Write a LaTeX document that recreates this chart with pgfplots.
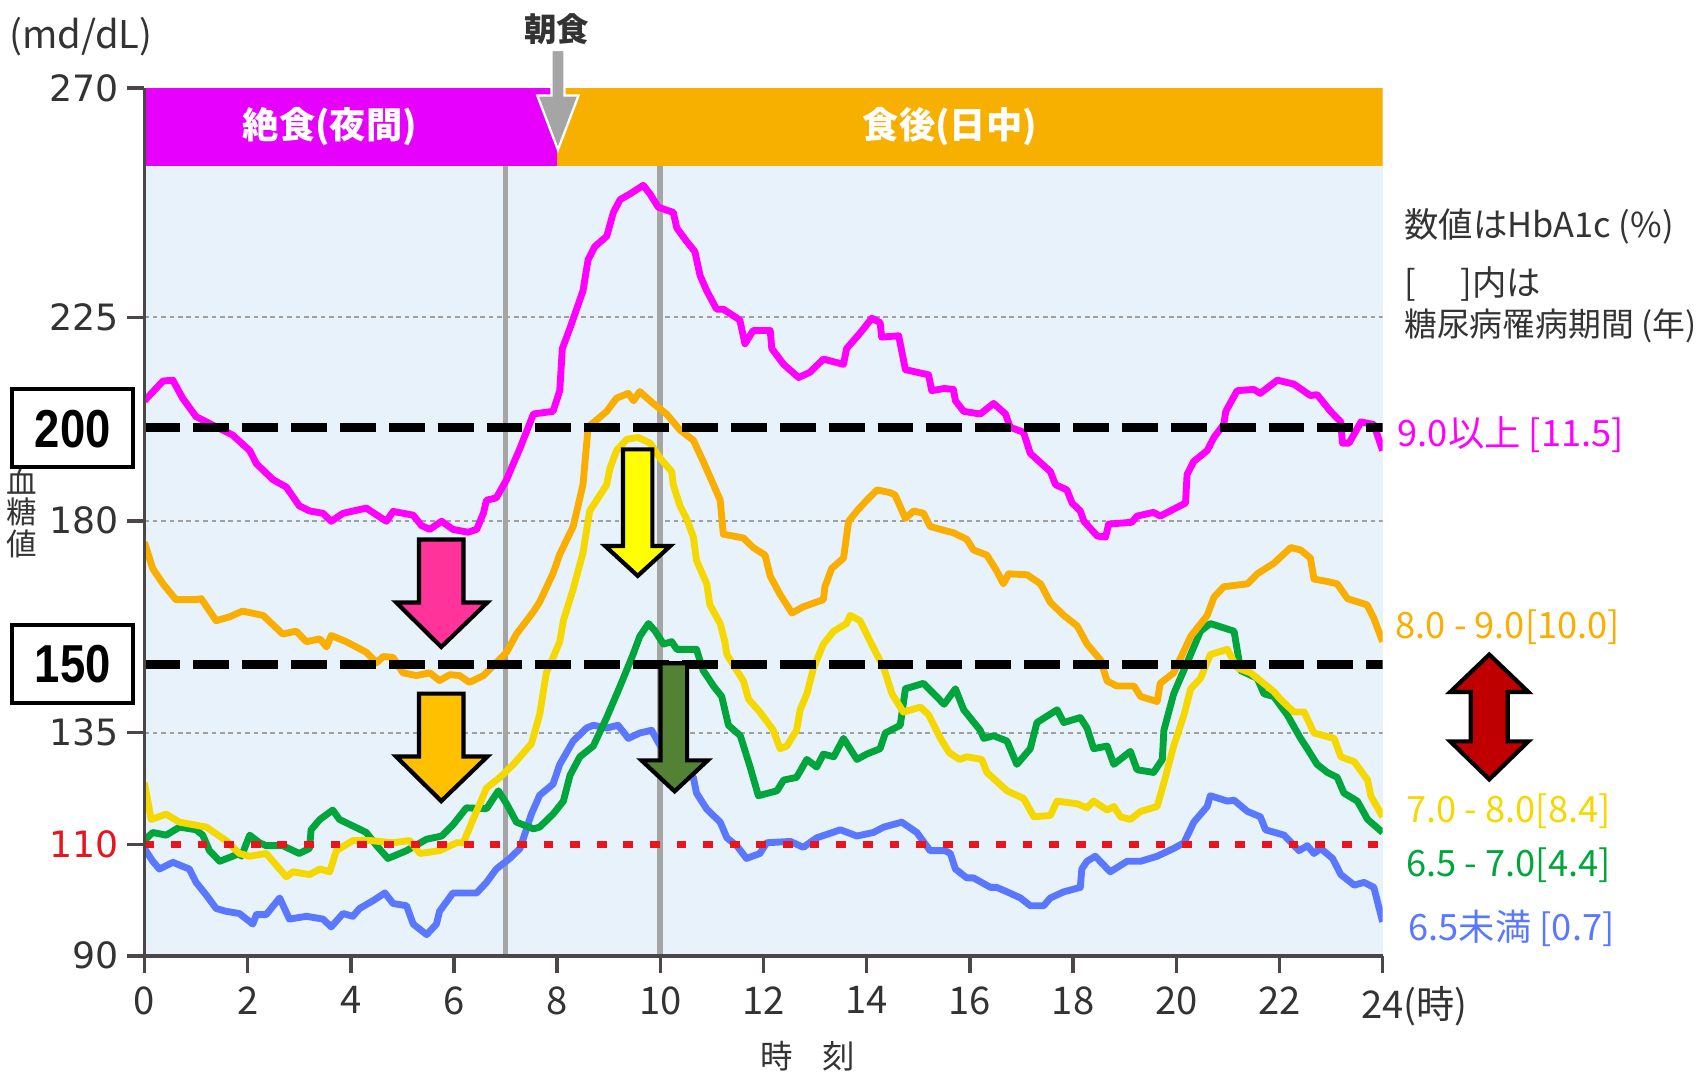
\documentclass[border=0pt]{standalone}
\usepackage{pgfplots}
\pgfplotsset{compat=1.18}
\usepackage{fontspec}
\setmainfont{Noto Sans CJK JP}
\newfontfamily\boxfont[FakeStretch=0.85]{Liberation Sans}
\newfontfamily\tickfont{DejaVu Sans}
\definecolor{cmag}{HTML}{FF00FF}
\definecolor{barmag}{HTML}{E800FF}
\definecolor{corg}{HTML}{F9AE00}
\definecolor{barorg}{HTML}{F8B000}
\definecolor{cyel}{HTML}{F5D800}
\definecolor{cgrn}{HTML}{00A53C}
\definecolor{cblu}{HTML}{5A78FF}
\definecolor{plotbg}{HTML}{E8F2FB}
\definecolor{vgray}{HTML}{A5A5A5}
\definecolor{gridgray}{HTML}{A0A0A0}
\definecolor{axisgray}{HTML}{4D4646}
\definecolor{labelgray}{HTML}{333333}
\definecolor{red110}{HTML}{E8141E}
\definecolor{arrpink}{HTML}{FF3399}
\definecolor{arrorg}{HTML}{FFC000}
\definecolor{arryel}{HTML}{FFFF00}
\definecolor{arrgrn}{HTML}{548235}
\definecolor{arrred}{HTML}{C00000}
\begin{document}
\begin{tikzpicture}
\useasboundingbox (0,0) rectangle (15.68cm,9.89cm);
\begin{axis}[
  at={(1.33cm,1.09cm)}, anchor=south west,
  width=11.40cm, height=7.99cm, scale only axis,
  xmin=0, xmax=24, ymin=90, ymax=270,
  enlargelimits=false,
  y coord trafo/.code={\pgfmathparse{#1<=110 ? (#1-90)*5.12 : (#1<=135 ? 102.4+(#1-110)*4.124 : (#1<=150 ? 205.5+(#1-135)*4.2 : (#1<=180 ? 268.5+(#1-150)*4.4 : (#1<=200 ? 400.5+(#1-180)*4.31 : (#1<=225 ? 486.7+(#1-200)*4.044 : 587.8+(#1-225)*4.693)))))}},
  axis x line*=bottom, axis y line*=left,
  axis on top=true,
  axis line style={draw=axisgray, line width=0.9pt},
  xtick={0,2,...,24},
  xticklabels={0,2,4,6,8,10,12,14,16,18,20,22,24\rlap{(時)}},
  ytick={90,110,135,180,225,270},
  yticklabels={90,\textcolor{red110}{110},135,180,225,270},
  tick align=outside,
  major tick length=0.16cm,
  tick style={draw=axisgray, line width=0.9pt},
  xticklabel style={font=\fontsize{10}{12}\selectfont, text=labelgray},
  yticklabel style={font=\tickfont\fontsize{9.5}{11}\selectfont, text=labelgray, xshift=0.05cm},
  /pgf/number format/assume math mode=true,
  axis background/.style={fill=plotbg},
]
% grid lines
\addplot[gridgray, line width=0.5pt, dash pattern=on 1.2pt off 1pt] coordinates {(0,225) (24,225)};
\addplot[gridgray, line width=0.5pt, dash pattern=on 1.2pt off 1pt] coordinates {(0,180) (24,180)};
\addplot[gridgray, line width=0.5pt, dash pattern=on 1.2pt off 1pt] coordinates {(0,135) (24,135)};
% vertical lines
\addplot[vgray, line width=1.5pt] coordinates {(7,90) (7,254.6)};
\addplot[vgray, line width=1.5pt] coordinates {(10,90) (10,254.6)};
% blue: HbA1c < 6.5
\addplot[cblu, line width=1.8pt, line join=round] coordinates {
(0,109.3) (0.16,107.0) (0.29,105.6) (0.55,106.8) (0.87,105.6) (1.0,103.2) (1.2,100.9) (1.39,98.5) (1.58,98.0) (1.84,97.6) (2.1,95.7) (2.17,97.4) (2.36,97.4) (2.62,100.4) (2.81,96.6) (3.14,97.1) (3.46,96.6) (3.62,95.2) (3.85,97.6) (4.04,97.1) (4.17,98.5) (4.43,99.9) (4.66,101.3) (4.82,99.4) (5.08,99.0) (5.21,95.7) (5.47,93.8) (5.66,95.7) (5.72,98.0) (5.98,101.3) (6.44,101.3) (6.63,103.2) (6.82,105.6) (7.08,107.5) (7.28,109.3) (7.5,116.8) (7.66,121.0) (7.92,123.5) (8.05,127.9) (8.31,133.1) (8.57,136.0) (8.7,136.6) (8.96,136.0) (9.18,136.6) (9.38,133.7) (9.6,134.9) (9.83,135.5) (10.0,132.0) (10.38,127.9) (10.64,125.0) (10.7,121.5) (10.9,117.9) (11.16,115.0) (11.29,111.5) (11.48,109.8) (11.67,107.5) (11.93,108.4) (12.06,110.4) (12.52,110.7) (12.77,109.5) (13.03,111.5) (13.49,113.3) (13.81,111.9) (14.13,112.7) (14.33,113.9) (14.68,115.0) (14.97,112.7) (15.23,108.9) (15.52,108.9) (15.62,108.4) (15.72,105.6) (15.94,104.0) (16.07,104.0) (16.4,102.3) (16.52,102.3) (16.72,101.5) (16.98,100.4) (17.17,99.0) (17.43,99.0) (17.56,100.4) (17.82,101.5) (18.14,102.3) (18.17,105.6) (18.27,107.0) (18.43,107.9) (18.72,105.1) (19.05,107.0) (19.31,107.0) (19.63,107.9) (19.95,109.3) (20.15,110.4) (20.34,115.0) (20.6,118.5) (20.66,120.9) (20.99,119.7) (21.12,119.9) (21.38,117.4) (21.63,116.2) (21.73,113.3) (22.09,112.1) (22.38,108.9) (22.54,109.8) (22.67,108.4) (22.8,109.3) (23.03,107.5) (23.19,104.6) (23.45,102.7) (23.64,103.2) (23.83,102.3) (24.0,96.1)};
% green: 6.5-7.0
\addplot[cgrn, line width=1.8pt, line join=round] coordinates {
(0,110.9) (0.16,112.7) (0.42,112.1) (0.68,113.9) (1.0,113.3) (1.13,112.1) (1.26,108.9) (1.46,107.0) (1.71,107.9) (1.84,108.4) (1.88,107.9) (2.04,112.1) (2.23,110.4) (2.36,109.8) (2.68,109.8) (3.0,108.4) (3.2,109.3) (3.23,113.3) (3.4,115.6) (3.65,117.7) (3.78,115.6) (4.3,112.7) (4.5,109.8) (4.72,107.5) (5.08,108.9) (5.47,111.2) (5.76,111.9) (5.98,114.4) (6.24,118.2) (6.63,118.0) (6.86,122.0) (7.02,119.1) (7.21,115.0) (7.54,113.5) (7.66,113.9) (7.92,116.8) (8.12,119.7) (8.25,125.5) (8.44,129.6) (8.7,132.0) (8.96,138.3) (9.22,145.2) (9.47,152.0) (9.6,155.8) (9.77,158.5) (9.9,156.9) (10.06,154.2) (10.22,154.7) (10.32,153.1) (10.7,153.1) (10.83,148.6) (11.03,145.2) (11.19,142.9) (11.32,136.6) (11.55,134.3) (11.74,127.3) (11.9,120.9) (12.26,122.0) (12.39,124.4) (12.64,125.0) (12.84,129.0) (13.03,127.3) (13.16,130.2) (13.36,129.6) (13.55,133.7) (13.81,129.0) (14.0,130.2) (14.26,131.4) (14.36,134.9) (14.65,136.6) (14.75,144.6) (15.1,145.8) (15.3,143.5) (15.5,141.2) (15.72,144.6) (15.88,140.0) (16.2,135.5) (16.27,133.7) (16.46,134.3) (16.72,133.1) (16.91,127.9) (17.17,131.4) (17.3,137.2) (17.69,140.0) (17.82,137.2) (18.14,138.3) (18.27,136.0) (18.4,131.4) (18.66,132.0) (18.79,127.9) (19.11,130.8) (19.24,126.7) (19.56,126.1) (19.73,129.0) (19.76,135.5) (19.95,143.5) (20.21,150.3) (20.47,156.9) (20.66,158.5) (21.12,156.9) (21.25,148.6) (21.57,146.9) (21.7,143.5) (21.89,142.9) (22.15,138.9) (22.41,133.7) (22.54,131.4) (22.73,127.9) (22.93,126.1) (23.12,125.0) (23.25,121.5) (23.51,119.7) (23.71,115.6) (24.0,112.7)};
% yellow: 7.0-8.0
\addplot[cyel, line width=1.8pt, line join=round] coordinates {
(0,123.8) (0.13,115.6) (0.42,116.8) (0.68,115.0) (1.2,113.9) (1.58,110.9) (1.84,108.4) (2.04,107.9) (2.36,108.4) (2.49,107.0) (2.75,104.2) (2.88,105.1) (3.2,104.6) (3.4,105.6) (3.59,105.1) (3.72,108.9) (4.04,110.9) (4.37,110.9) (4.82,110.4) (5.14,110.9) (5.34,108.4) (5.72,108.9) (6.05,110.4) (6.18,110.4) (6.37,115.6) (6.63,122.6) (6.89,125.0) (7.15,127.9) (7.5,132.5) (7.66,138.9) (7.79,148.1) (7.92,151.4) (8.05,154.7) (8.12,159.1) (8.31,165.7) (8.5,173.3) (8.63,182.1) (8.83,185.5) (8.96,187.7) (9.02,191.1) (9.15,195.0) (9.35,197.4) (9.57,197.8) (9.8,196.6) (10.0,193.3) (10.22,190.5) (10.25,187.7) (10.38,183.2) (10.51,180.4) (10.64,176.6) (10.7,171.7) (10.9,166.8) (10.96,162.4) (11.16,158.5) (11.25,154.7) (11.29,152.0) (11.61,146.3) (11.71,142.3) (11.93,139.5) (12.19,135.5) (12.32,131.4) (12.45,132.0) (12.64,135.5) (12.71,140.0) (12.84,143.5) (12.97,149.2) (13.16,154.2) (13.36,156.9) (13.61,158.5) (13.68,160.2) (13.87,159.1) (14.07,154.7) (14.33,149.2) (14.49,143.5) (14.71,139.5) (15.04,140.6) (15.2,138.9) (15.43,133.7) (15.6,130.5) (15.8,129.0) (15.94,129.6) (16.23,129.0) (16.33,126.1) (16.72,122.0) (17.04,120.3) (17.24,116.2) (17.56,116.5) (17.69,119.7) (18.08,119.1) (18.27,118.2) (18.4,119.7) (18.66,117.7) (18.79,118.5) (18.92,116.2) (19.11,115.6) (19.31,117.4) (19.63,118.5) (19.76,123.8) (19.95,132.0) (20.15,138.9) (20.28,144.6) (20.47,146.9) (20.66,152.0) (20.99,153.1) (21.18,149.2) (21.44,148.1) (21.89,144.0) (22.02,142.3) (22.28,139.5) (22.48,139.5) (22.67,134.9) (23.06,133.7) (23.19,129.6) (23.45,128.5) (23.71,124.4) (23.77,120.9) (24.0,116.2)};
% orange: 8.0-9.0
\addplot[corg, line width=1.8pt, line join=round] coordinates {
(0,175.5) (0.16,170.0) (0.36,166.8) (0.61,163.5) (1.0,163.5) (1.1,163.7) (1.39,159.1) (1.65,159.9) (1.9,161.1) (2.3,160.2) (2.68,156.3) (2.94,156.9) (3.14,154.7) (3.4,155.3) (3.53,153.6) (3.62,156.0) (3.91,154.7) (4.3,152.5) (4.5,150.3) (4.63,151.6) (4.82,151.4) (5.01,148.1) (5.27,147.5) (5.53,148.1) (5.72,146.4) (5.92,147.7) (6.11,147.5) (6.3,146.0) (6.57,147.5) (6.82,150.3) (7.02,152.5) (7.21,156.3) (7.54,161.0) (7.66,163.0) (7.79,166.0) (7.92,169.0) (8.05,173.0) (8.31,178.8) (8.5,187.7) (8.6,200.0) (8.96,203.6) (9.15,206.6) (9.38,207.7) (9.48,206.0) (9.6,208.1) (9.86,205.4) (10.12,203.0) (10.38,199.4) (10.64,197.2) (10.83,192.7) (11.03,187.7) (11.16,184.4) (11.22,177.2) (11.61,176.4) (11.8,174.4) (12.03,172.8) (12.13,168.4) (12.32,164.6) (12.55,160.7) (12.77,162.0) (13.16,163.5) (13.19,166.2) (13.32,170.0) (13.55,172.2) (13.65,179.9) (13.81,182.1) (14.0,184.4) (14.2,186.6) (14.46,186.0) (14.55,185.5) (14.75,180.5) (14.91,182.1) (15.1,181.6) (15.23,178.8) (15.43,178.2) (15.68,177.5) (15.94,176.1) (16.07,173.9) (16.33,172.8) (16.52,169.5) (16.65,166.8) (16.75,168.9) (17.11,168.7) (17.37,166.8) (17.56,162.9) (17.82,160.2) (18.08,158.0) (18.27,154.2) (18.53,150.9) (18.66,146.3) (18.85,145.2) (19.18,145.2) (19.31,142.9) (19.63,141.8) (19.69,145.8) (19.95,148.1) (20.28,155.8) (20.6,160.2) (20.73,164.0) (20.92,166.2) (21.38,166.8) (21.57,168.9) (21.89,171.1) (22.22,174.4) (22.41,173.9) (22.6,172.2) (22.67,167.8) (22.93,167.3) (23.12,166.8) (23.32,163.7) (23.7,162.4) (23.83,159.6) (24.0,154.7)};
% magenta: >= 9.0
\addplot[cmag, line width=1.8pt, line join=round] coordinates {
(0,206.0) (0.36,210.5) (0.55,210.7) (0.74,206.6) (1.0,202.4) (1.2,201.2) (1.71,198.3) (2.04,195.0) (2.17,192.2) (2.49,188.8) (2.75,187.2) (3.0,183.2) (3.2,182.1) (3.46,181.6) (3.62,179.9) (3.85,181.6) (4.3,182.7) (4.69,179.9) (4.82,182.0) (5.21,181.2) (5.37,179.0) (5.53,178.2) (5.76,179.9) (5.98,178.2) (6.27,177.6) (6.44,178.2) (6.57,181.6) (6.63,184.4) (6.82,184.9) (7.02,188.8) (7.15,192.2) (7.28,195.5) (7.54,203.0) (7.92,203.6) (8.05,208.3) (8.1,217.9) (8.25,222.6) (8.5,230.2) (8.6,236.3) (8.73,238.9) (8.96,240.9) (9.09,245.6) (9.22,248.1) (9.41,249.2) (9.67,250.9) (9.8,249.2) (9.96,246.6) (10.25,245.6) (10.32,242.5) (10.51,239.9) (10.67,237.9) (10.77,233.2) (10.9,230.2) (11.09,226.6) (11.22,226.6) (11.54,224.4) (11.64,219.0) (11.8,222.0) (12.13,222.0) (12.16,217.9) (12.39,214.3) (12.68,211.3) (12.9,212.5) (13.16,215.5) (13.55,214.3) (13.61,217.9) (13.87,221.4) (14.1,224.8) (14.26,223.8) (14.29,220.5) (14.62,220.8) (14.75,213.1) (15.2,211.9) (15.26,208.3) (15.5,208.8) (15.68,208.6) (15.72,206.0) (15.88,203.6) (16.2,203.0) (16.46,205.4) (16.69,203.0) (16.78,200.0) (17.04,198.9) (17.17,194.4) (17.56,190.5) (17.66,187.7) (17.88,186.6) (17.98,183.8) (18.14,182.1) (18.21,179.9) (18.47,176.8) (18.63,176.6) (18.69,179.3) (19.14,179.7) (19.24,181.0) (19.56,181.8) (19.69,181.0) (20.18,183.8) (20.21,189.9) (20.34,192.7) (20.6,195.0) (20.73,197.8) (20.92,200.6) (20.96,203.6) (21.18,208.3) (21.5,208.6) (21.63,207.7) (21.96,210.7) (22.28,209.8) (22.6,207.2) (22.73,207.4) (22.99,203.6) (23.19,201.2) (23.22,196.6) (23.35,196.6) (23.58,201.2) (23.83,200.6) (24.0,195.0)};
% threshold lines
\addplot[black, line width=0.085cm, dash pattern=on 0.33cm off 0.12cm] coordinates {(0,200) (24,200)};
\addplot[black, line width=0.085cm, dash pattern=on 0.33cm off 0.12cm] coordinates {(0,150) (24,150)};
\addplot[red110, line width=0.07cm, dash pattern=on 0.09cm off 0.155cm] coordinates {(0,110) (24,110)};
% top bands
\addplot[draw=none, fill=barmag] coordinates {(0,254.6) (8,254.6) (8,270) (0,270)} -- cycle;
\addplot[draw=none, fill=barorg] coordinates {(8,254.6) (24,254.6) (24,270) (8,270)} -- cycle;
\end{axis}
\begin{scope}[shift={(0cm,9.89cm)}, x=0.01cm, y=-0.01cm]
% band texts
\node[text=white, font=\fontsize{9.5}{11}\selectfont\bfseries] at (304,117) {絶食(夜間)};
\node[text=white, font=\fontsize{9.5}{11}\selectfont\bfseries] at (875,117) {食後(日中)};
% breakfast arrow
\node[text=labelgray, font=\fontsize{8.5}{10}\selectfont\bfseries] at (513,27) {朝食};
\filldraw[fill=vgray, draw=white, line width=0.6pt] (508,46) -- (520,46) -- (520,88) -- (533,88) -- (514,138) -- (495,88) -- (508,88) -- cycle;
% axis captions
\node[anchor=west, text=labelgray, font=\fontsize{10}{12}\selectfont, inner sep=0pt] at (8,34) {(md/dL)};
\node[text=labelgray, font=\fontsize{8}{9}\selectfont, inner sep=0pt] at (20,443) {血};
\node[text=labelgray, font=\fontsize{8}{9}\selectfont, inner sep=0pt] at (20,472) {糖};
\node[text=labelgray, font=\fontsize{8}{9}\selectfont, inner sep=0pt] at (20,501) {値};
\node[text=labelgray, font=\fontsize{8.5}{10}\selectfont, inner sep=0pt] at (744,973) {時\hspace{0.9em}刻};
% threshold boxes
\filldraw[fill=white, draw=black, line width=0.037cm] (11,358) rectangle (122.5,430.5);
\node[font=\boxfont\fontsize{14}{16}\selectfont\bfseries] at (67,395) {200};
\filldraw[fill=white, draw=black, line width=0.037cm] (11,576) rectangle (122.5,647.5);
\node[font=\boxfont\fontsize{14}{16}\selectfont\bfseries] at (67,612) {150};
% right notes
\node[anchor=west, text=labelgray, font=\fontsize{9}{11}\selectfont, inner sep=0pt] at (1293,209) {数値はHbA1c (\%)};
\node[anchor=west, text=labelgray, font=\fontsize{9}{11}\selectfont, inner sep=0pt] at (1293,262) {[\hspace{1.3em}]内は};
\node[anchor=west, text=labelgray, font=\fontsize{8.6}{11}\selectfont, inner sep=0pt] at (1293,300) {糖尿病罹病期間 (年)};
\node[anchor=west, text=cmag, font=\fontsize{9.5}{11}\selectfont, inner sep=0pt] at (1287,400) {9.0以上 [11.5]};
\node[anchor=west, text=corg, font=\fontsize{9.5}{11}\selectfont, inner sep=0pt] at (1285,578) {8.0 - 9.0[10.0]};
\node[anchor=west, text=cyel, font=\fontsize{9.5}{11}\selectfont, inner sep=0pt] at (1295,747) {7.0 - 8.0[8.4]};
\node[anchor=west, text=cgrn, font=\fontsize{9.5}{11}\selectfont, inner sep=0pt] at (1295,797) {6.5 - 7.0[4.4]};
\node[anchor=west, text=cblu, font=\fontsize{9.5}{11}\selectfont, inner sep=0pt] at (1297,855) {6.5未満 [0.7]};
% block arrows
\filldraw[fill=arrpink, draw=black, line width=1.1pt, miter limit=20] (386,497) -- (427,497) -- (427,555) -- (449,555) -- (406.5,596) -- (365,555) -- (386,555) -- cycle;
\filldraw[fill=arrorg, draw=black, line width=1.1pt, miter limit=20] (386,639) -- (427,639) -- (427,697) -- (449,697) -- (406.5,738) -- (365,697) -- (386,697) -- cycle;
\filldraw[fill=arryel, draw=black, line width=1.1pt, miter limit=20] (574,414) -- (601,414) -- (601,503) -- (617.5,503) -- (587.5,530.5) -- (557.5,503) -- (574,503) -- cycle;
\filldraw[fill=arrgrn, draw=black, line width=1.1pt, miter limit=20] (608.5,611) -- (633,611) -- (633,700.5) -- (652,700.5) -- (621.5,729) -- (591,700.5) -- (608.5,700.5) -- cycle;
\filldraw[fill=arrred, draw=black, line width=1.1pt, miter limit=20] (1372,603) -- (1408,637.5) -- (1389,637.5) -- (1389,683) -- (1408,683) -- (1372,718) -- (1336,683) -- (1355,683) -- (1355,637.5) -- (1336,637.5) -- cycle;
\end{scope}
\end{tikzpicture}
\end{document}
